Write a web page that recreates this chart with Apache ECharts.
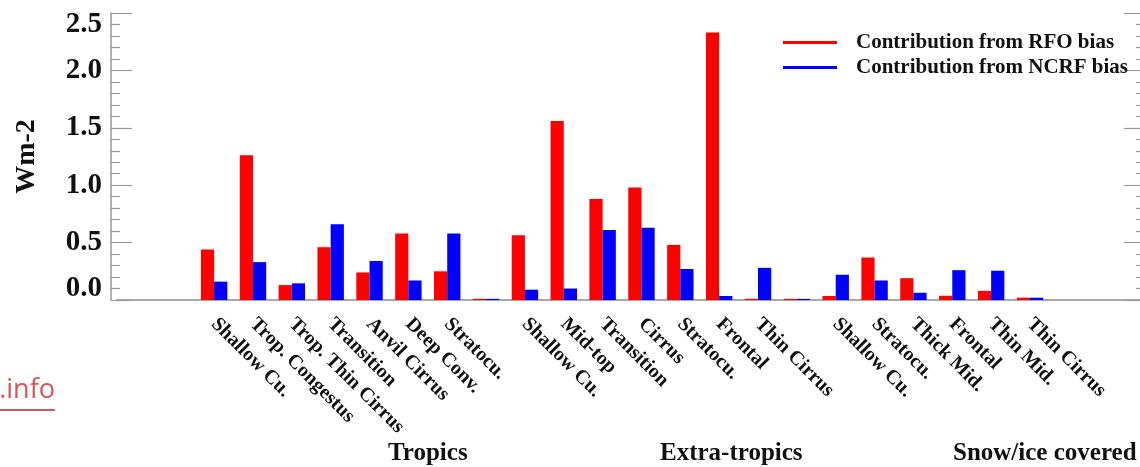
<!DOCTYPE html>
<html>
<head>
<meta charset="utf-8">
<script src="https://cdn.jsdelivr.net/npm/echarts@6.0.0/dist/echarts.min.js"></script>
<style>
  html, body { margin: 0; padding: 0; background: #fff; }
  #main { width: 1140px; height: 467px; }
</style>
</head>
<body>
<div id="main"></div>
<script>
// cloud regimes
const tropics = ['Shallow Cu.', 'Trop. Congestus', 'Trop. Thin Cirrus', 'Transition', 'Anvil Cirrus', 'Deep Conv.', 'Stratocu.'];
const extraTropics = ['Shallow Cu.', 'Mid-top', 'Transition', 'Cirrus', 'Stratocu.', 'Frontal', 'Thin Cirrus'];
const snowIce = ['Shallow Cu.', 'Stratocu.', 'Thick Mid.', 'Frontal', 'Thin Mid.', 'Thin Cirrus'];
const groupNames = ['Tropics', 'Extra-tropics', 'Snow/ice covered'];

// Wm-2
const rfoTropics = [0.44, 1.26, 0.13, 0.46, 0.24, 0.58, 0.25];
const ncrfTropics = [0.16, 0.33, 0.145, 0.66, 0.34, 0.17, 0.58];
const rfoExtra = [0.565, 1.56, 0.88, 0.98, 0.48, 2.33, 0.01];
const ncrfExtra = [0.09, 0.10, 0.61, 0.63, 0.27, 0.035, 0.28];
const rfoSnow = [0.035, 0.37, 0.19, 0.037, 0.08, 0.02];
const ncrfSnow = [0.22, 0.17, 0.063, 0.26, 0.255, 0.02];
const gapValue = 0.01;

const yTicks = [0, 0.5, 1.0, 1.5, 2.0, 2.5];

// empty slots at both ends and between groups
const categories = ['', ''].concat(tropics, [''], extraTropics, [''], snowIce, ['', '', '']);
const rfo = [null, null].concat(rfoTropics, [gapValue], rfoExtra, [gapValue], rfoSnow, [null, null, null]);
const ncrf = [null, null].concat(ncrfTropics, [gapValue], ncrfExtra, [gapValue], ncrfSnow, [null, null, null]);

const serif = "'Liberation Serif', 'Times New Roman', serif";
const grey = '#9a9a9a';

const chart = echarts.init(document.getElementById('main'));

const yAxisBase = {
  type: 'value',
  min: yTicks[0],
  max: yTicks[yTicks.length - 1],
  interval: 0.5,
  splitLine: { show: false },
  axisLine: { show: true, lineStyle: { color: grey, width: 1.5 } },
  axisTick: { show: true, inside: true, length: 21, lineStyle: { color: grey, width: 1.2 } },
  minorTick: { show: true, splitNumber: 5, length: 9, lineStyle: { color: grey, width: 1.2 } }
};

chart.setOption({
  animation: false,
  grid: { left: 117, top: 13, width: 27 * 38.85, bottom: 167, outerBoundsMode: 'none', containLabel: false },
  legend: {
    orient: 'vertical',
    left: 783,
    top: 32,
    padding: 0,
    icon: 'rect',
    itemWidth: 54,
    itemHeight: 3,
    itemGap: 4,
    textStyle: {
      fontFamily: serif,
      fontWeight: 'bold',
      fontSize: 21,
      lineHeight: 21,
      color: '#111',
      padding: [0, 0, 0, 14]
    },
    data: ['Contribution from RFO bias', 'Contribution from NCRF bias']
  },
  xAxis: [{
    type: 'category',
    data: categories,
    position: 'bottom',
    axisLine: { lineStyle: { color: '#8a8a8a', width: 2 } },
    axisTick: { show: false },
    axisLabel: {
      interval: 0,
      rotate: -45,
      margin: 21,
      fontFamily: serif,
      fontWeight: 'bold',
      fontSize: 20,
      color: '#111'
    }
  }, {
    type: 'category',
    data: categories,
    position: 'top',
    axisLine: { lineStyle: { color: '#b4b4b4', width: 1.5 } },
    axisTick: { show: false },
    axisLabel: { show: false }
  }],
  yAxis: [Object.assign({}, yAxisBase, {
    position: 'left',
    offset: 6,
    name: 'Wm-2',
    nameLocation: 'middle',
    nameRotate: 90,
    nameGap: 70,
    nameTextStyle: { fontFamily: serif, fontWeight: 'bold', fontSize: 28, color: '#111' },
    axisLabel: {
      margin: 9,
      fontFamily: serif,
      fontWeight: 'bold',
      fontSize: 29,
      color: '#111',
      formatter: (v) => {
        const s = v.toFixed(1);
        if (v === yTicks[0]) return '{lo|' + s + '}';
        if (v === yTicks[yTicks.length - 1]) return '{hi|' + s + '}';
        return s;
      },
      rich: {
        lo: { fontFamily: serif, fontWeight: 'bold', fontSize: 29, color: '#111', padding: [0, 0, 22, 0] },
        hi: { fontFamily: serif, fontWeight: 'bold', fontSize: 29, color: '#111', padding: [24, 0, 0, 0] }
      }
    }
  }), Object.assign({}, yAxisBase, {
    position: 'right',
    offset: -21,
    axisLabel: { show: false }
  })],
  series: [{
    name: 'Contribution from RFO bias',
    type: 'bar',
    data: rfo,
    barWidth: '34%',
    barGap: '0%',
    itemStyle: { color: '#ff0000' }
  }, {
    name: 'Contribution from NCRF bias',
    type: 'bar',
    data: ncrf,
    barWidth: '34%',
    barGap: '0%',
    itemStyle: { color: '#0000ff' }
  }],
  graphic: [
    { type: 'text', left: 388, top: 441, style: { text: groupNames[0], font: 'bold 25px ' + serif, fill: '#111' } },
    { type: 'text', left: 660, top: 441, style: { text: groupNames[1], font: 'bold 25px ' + serif, fill: '#111' } },
    { type: 'text', left: 953, top: 441, style: { text: groupNames[2], font: 'bold 25px ' + serif, fill: '#111' } },
    { type: 'text', right: 1085, top: 377, style: { text: '.info', font: '27px "Open Sans", sans-serif', fill: '#d4575c' } },
    { type: 'rect', shape: { x: 0, y: 409, width: 55, height: 2 }, style: { fill: '#d4575c' } }
  ]
});
</script>
</body>
</html>
